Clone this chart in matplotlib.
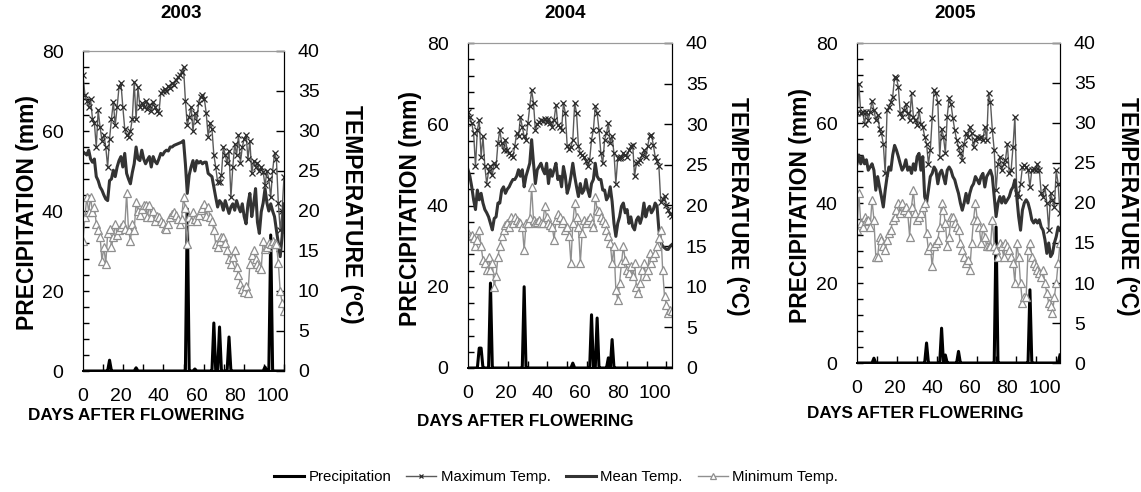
import numpy as np
import matplotlib
matplotlib.use("Agg")
from matplotlib import pyplot as plt
from matplotlib.ticker import MultipleLocator

plt.rcParams['font.family'] = ['Liberation Sans', 'DejaVu Sans']

years = ["2003", "2004", "2005"]

# daily maximum / mean / minimum temperature (C), one value per day after flowering
tmax_2003 = [37.0, 34.5, 33.8, 33.0, 34.0, 31.5, 31.0, 28.0, 32.6, 30.5,
             28.8, 29.5, 28.0, 25.5, 29.0, 31.5, 33.6, 30.7, 33.0, 35.5,
             36.0, 33.0, 30.3, 29.5, 29.3, 30.0, 31.5, 36.1, 31.5, 35.5,
             33.0, 33.5, 33.0, 33.8, 32.8, 33.2, 32.5, 33.6, 33.0, 32.5,
             32.2, 34.7, 35.0, 35.3, 35.0, 35.6, 35.4, 36.0, 35.8, 36.4,
             36.7, 37.0, 37.4, 38.0, 33.8, 30.7, 31.8, 33.0, 30.0, 32.2,
             31.3, 33.5, 34.2, 34.5, 34.0, 32.2, 29.3, 31.0, 30.3, 27.0,
             25.5, 23.6, 23.6, 24.5, 28.0, 27.0, 26.0, 27.5, 21.7, 25.5,
             28.4, 27.0, 29.5, 26.0, 28.0, 29.0, 29.5, 26.5, 28.8, 24.7,
             26.3, 25.5, 26.0, 25.0, 25.5, 24.9, 23.2, 25.0, 24.0, 21.7,
             25.0, 27.2, 26.5, 21.0, 17.6, 20.0, 24.3]
tmean_2003 = [27.4, 27.2, 27.0, 27.6, 26.5, 26.1, 26.5, 24.3, 23.8, 23.0,
              22.6, 22.0, 21.5, 21.3, 23.8, 24.0, 25.1, 24.3, 25.5, 26.3,
              26.8, 25.5, 27.2, 24.7, 24.0, 23.4, 24.8, 25.9, 28.0, 26.5,
              26.3, 27.6, 26.5, 25.9, 26.4, 26.8, 25.5, 26.8, 26.2, 25.9,
              26.5, 27.2, 27.0, 27.4, 27.6, 27.5, 28.0, 28.0, 28.2, 28.3,
              28.4, 28.5, 28.6, 28.8, 25.9, 22.2, 24.5, 25.5, 26.3, 25.0,
              26.3, 26.0, 26.2, 25.9, 26.1, 26.1, 24.7, 24.5, 24.3, 23.0,
              21.7, 20.5, 21.3, 21.0, 20.1, 21.3, 20.5, 19.7, 20.5, 20.9,
              20.1, 21.3, 20.5, 19.9, 20.9, 19.3, 18.4, 20.9, 22.2, 19.3,
              20.9, 22.8, 18.6, 17.2, 19.9, 21.0, 22.8, 21.0, 20.0, 20.9,
              20.0, 19.3, 17.6, 16.0, 14.3, 16.8, 20.9]
tmin_2003 = [16.3, 19.3, 21.7, 19.9, 21.7, 19.9, 20.5, 18.4, 17.6, 16.8,
             13.8, 15.5, 13.4, 17.2, 17.8, 15.5, 16.8, 18.4, 17.0, 17.6,
             18.0, 18.4, 17.8, 22.2, 17.6, 16.3, 18.4, 17.6, 21.1, 20.0,
             19.5, 20.2, 20.7, 20.7, 19.3, 20.8, 19.2, 20.0, 18.8, 19.4,
             19.2, 18.8, 18.5, 17.9, 17.8, 18.4, 19.3, 19.6, 19.9, 19.5,
             19.0, 18.4, 19.0, 21.7, 20.4, 15.9, 19.3, 18.7, 19.9, 19.0,
             18.8, 19.5, 20.1, 20.4, 20.9, 19.4, 20.5, 19.2, 18.8, 17.6,
             15.9, 15.5, 16.2, 16.8, 16.8, 16.0, 15.1, 14.0, 13.4, 14.2,
             15.1, 13.0, 12.0, 10.9, 10.3, 9.9, 10.6, 9.7, 13.4, 14.5,
             15.1, 14.0, 13.4, 13.0, 12.8, 16.3, 15.2, 15.5, 16.0, 15.9,
             16.3, 16.0, 15.9, 13.5, 10.0, 8.5, 7.5]
rain_days_2003 = [14, 28, 55, 59, 69, 72, 77, 96, 99]
rain_mm_2003 = [2.7, 0.8, 40.5, 0.5, 12.0, 11.0, 8.5, 1.0, 34.0]

tmax_2004 = [31.5, 30.9, 30.1, 28.9, 24.8, 29.3, 30.5, 26.0, 28.5, 24.8,
             22.7, 24.2, 24.8, 23.8, 25.2, 24.8, 27.7, 29.3, 27.7, 26.8,
             28.1, 26.8, 26.4, 26.2, 26.0, 27.3, 28.9, 28.5, 30.9, 29.7,
             28.5, 28.1, 30.1, 32.2, 34.2, 32.6, 29.3, 30.0, 30.3, 30.5,
             30.4, 30.7, 30.3, 30.6, 30.1, 29.7, 30.5, 32.4, 29.9, 29.7,
             29.3, 32.6, 31.4, 27.3, 27.0, 27.2, 28.1, 32.6, 31.4, 27.3,
             26.4, 26.2, 26.0, 25.5, 24.8, 25.6, 28.1, 29.3, 32.2, 31.4,
             29.3, 26.4, 25.2, 28.1, 28.9, 30.1, 27.7, 28.5, 26.4, 22.7,
             25.8, 25.9, 26.0, 26.4, 26.2, 26.0, 26.8, 27.3, 27.5, 23.6,
             25.2, 25.4, 25.6, 26.2, 26.8, 26.0, 27.3, 28.5, 28.7, 27.5,
             26.0, 25.5, 24.8, 20.4, 20.8, 21.2, 20.0, 19.5, 19.0, 18.7]
tmean_2004 = [24.4, 23.6, 22.3, 20.7, 19.5, 21.9, 20.7, 21.5, 20.3, 19.5,
              19.1, 18.6, 17.8, 17.0, 18.4, 18.6, 20.3, 20.3, 21.9, 22.3,
              21.5, 22.0, 22.3, 22.8, 23.2, 23.2, 23.6, 24.4, 23.6, 24.4,
              22.3, 23.6, 24.4, 25.2, 28.1, 25.2, 22.7, 24.4, 24.8, 25.2,
              24.4, 23.9, 25.2, 22.7, 24.4, 23.6, 24.4, 25.2, 23.2, 23.6,
              22.3, 24.8, 23.6, 21.5, 22.3, 23.6, 25.2, 23.6, 22.3, 21.1,
              22.7, 21.5, 21.9, 23.2, 21.9, 21.1, 22.7, 23.2, 25.2, 23.6,
              23.2, 23.2, 21.9, 21.9, 20.7, 21.1, 22.3, 20.5, 17.8, 16.2,
              17.8, 18.6, 19.9, 20.3, 19.1, 19.5, 17.8, 18.6, 17.4, 17.0,
              18.2, 18.6, 17.8, 18.6, 20.3, 18.6, 19.5, 19.9, 19.1, 19.5,
              20.3, 19.9, 17.0, 15.5, 15.0, 14.8, 14.6, 14.6, 15.0, 15.2]
tmin_2004 = [16.6, 16.2, 16.4, 16.0, 15.0, 15.8, 17.0, 15.0, 13.3, 12.9,
             12.1, 13.7, 12.1, 12.9, 10.0, 11.3, 13.7, 15.0, 16.2, 17.0,
             17.6, 17.8, 17.4, 18.6, 17.8, 18.6, 18.2, 18.0, 17.8, 17.4,
             14.5, 17.8, 17.8, 18.4, 22.3, 18.2, 17.8, 18.0, 18.2, 17.9,
             17.9, 19.9, 18.6, 17.8, 17.6, 17.4, 15.8, 18.2, 18.9, 18.6,
             17.8, 18.2, 17.0, 17.4, 16.2, 12.9, 17.8, 20.3, 18.6, 17.4,
             12.9, 16.6, 18.2, 17.8, 18.2, 18.6, 17.8, 17.4, 21.1, 19.5,
             19.3, 18.6, 18.2, 17.8, 17.0, 16.2, 15.4, 12.9, 15.0, 9.6,
             8.4, 10.5, 12.9, 15.0, 13.3, 12.1, 11.7, 12.5, 11.3, 12.9,
             10.0, 9.2, 10.5, 12.1, 12.9, 11.3, 12.1, 14.1, 12.9, 13.7,
             14.2, 15.0, 16.0, 17.0, 12.1, 8.8, 7.8, 6.8, 7.2, 7.0]
rain_days_2004 = [6, 7, 12, 30, 56, 66, 69, 75, 77]
rain_mm_2004 = [4.9, 4.9, 20.9, 20.0, 1.2, 13.1, 12.3, 2.5, 7.0]

tmax_2005 = [31.2, 34.9, 31.2, 31.4, 29.9, 31.4, 30.4, 31.4, 32.8, 31.6,
             30.4, 31.0, 29.3, 28.7, 27.4, 23.7, 31.6, 32.0, 32.6, 33.3,
             35.8, 35.6, 34.5, 31.2, 30.8, 31.6, 32.4, 31.2, 30.4, 33.7,
             30.8, 30.4, 29.7, 31.6, 29.9, 29.5, 28.3, 27.4, 24.9, 26.6,
             30.6, 34.1, 33.7, 32.6, 25.8, 29.3, 28.3, 26.2, 30.8, 33.1,
             32.4, 30.6, 29.1, 27.9, 27.0, 26.2, 25.4, 27.4, 28.7, 28.3,
             29.5, 28.7, 27.0, 27.9, 28.3, 28.1, 28.3, 27.9, 29.5, 27.9,
             33.7, 32.6, 29.1, 26.6, 21.6, 24.9, 25.8, 24.1, 24.9, 25.4,
             27.4, 23.7, 24.1, 27.0, 30.8, 21.2, 20.8, 22.4, 24.5, 24.7,
             24.5, 24.1, 22.0, 24.1, 24.3, 24.1, 24.9, 24.1, 21.2, 20.8,
             22.0, 20.0, 16.6, 21.2, 20.4, 19.5, 24.1, 22.4, 18.7]
tmean_2005 = [24.9, 26.0, 24.9, 25.8, 24.9, 25.4, 24.1, 24.5, 24.9, 24.1,
              21.6, 23.3, 22.0, 20.8, 19.5, 21.6, 23.3, 24.5, 24.1, 26.0,
              27.2, 26.6, 25.8, 24.9, 24.1, 24.5, 25.4, 24.1, 24.5, 23.7,
              24.9, 24.1, 25.8, 26.2, 24.1, 25.8, 20.8, 20.0, 21.6, 23.3,
              23.7, 24.5, 24.1, 22.4, 23.7, 24.1, 23.3, 22.4, 24.1, 24.5,
              24.1, 23.3, 22.9, 22.0, 21.2, 20.0, 19.1, 20.0, 21.2, 20.0,
              21.2, 22.0, 22.4, 23.3, 22.9, 22.4, 23.3, 23.7, 22.0, 23.3,
              23.7, 24.1, 23.3, 20.8, 18.3, 20.0, 20.8, 20.0, 20.8, 20.0,
              20.4, 20.8, 21.6, 22.0, 22.9, 20.8, 18.3, 16.6, 19.1, 20.0,
              20.4, 20.0, 19.1, 17.9, 17.5, 17.9, 17.5, 17.9, 17.0, 16.6,
              15.4, 13.7, 15.0, 13.3, 13.7, 15.0, 15.8, 17.0, 16.6]
tmin_2005 = [16.6, 21.2, 17.5, 17.0, 18.3, 17.7, 17.9, 17.0, 20.4, 17.9,
             13.3, 13.3, 15.8, 15.4, 14.6, 14.1, 15.4, 16.2, 16.6, 17.9,
             18.3, 19.1, 20.0, 18.7, 20.0, 19.1, 19.5, 18.7, 15.8, 19.5,
             21.6, 18.7, 17.9, 18.3, 18.7, 19.5, 20.0, 16.2, 14.1, 14.6,
             12.1, 14.6, 15.0, 15.4, 17.0, 20.0, 19.1, 17.5, 14.6, 15.8,
             18.3, 18.3, 17.5, 17.0, 16.6, 15.0, 14.1, 13.3, 12.5, 12.9,
             11.6, 15.0, 17.9, 20.0, 17.9, 17.0, 15.0, 17.0, 15.8, 14.6,
             14.6, 14.6, 17.9, 14.6, 14.1, 13.3, 15.0, 14.6, 13.3, 15.0,
             14.6, 14.1, 13.3, 12.5, 10.0, 15.0, 13.3, 10.0, 7.5, 8.3,
             8.3, 14.1, 15.0, 13.3, 12.5, 12.1, 11.6, 11.2, 10.8, 11.6,
             10.0, 8.7, 7.5, 7.1, 6.2, 8.3, 10.0, 12.5, 15.0]
rain_days_2005 = [9, 37, 45, 47, 54, 74, 92, 108]
rain_mm_2005 = [1.2, 5.0, 8.7, 2.0, 2.9, 34.0, 18.3, 2.0]

tmax_all = [tmax_2003, tmax_2004, tmax_2005]
tmean_all = [tmean_2003, tmean_2004, tmean_2005]
tmin_all = [tmin_2003, tmin_2004, tmin_2005]
rain_days_all = [rain_days_2003, rain_days_2004, rain_days_2005]
rain_mm_all = [rain_mm_2003, rain_mm_2004, rain_mm_2005]

W, H = 1141, 492
fig = plt.figure(figsize=(W / 100, H / 100), dpi=100)

# panel boxes in pixels: left, top, right, bottom
boxes = [(83, 51, 284, 371), (468, 43, 672, 368), (857, 43, 1060, 363)]
title_xy = [(181, 13), (565, 13), (955, 13)]
xlabel_xy = [(136, 416), (525, 421), (915, 414)]
ylabel_xy = [(28, 213), (410, 208), (800, 205)]
y2label_xy = [(352, 214), (738, 206), (1127, 206)]

def fx(px):
    return px / W

def fy(py):
    return 1 - py / H

for i in range(3):
    l, t, r, b = boxes[i]
    ax = fig.add_axes([fx(l), fy(b), (r - l) / W, (b - t) / H])
    ax2 = ax.twinx()

    n = len(tmax_all[i])
    days = np.arange(n)
    rain = np.zeros(n)
    for d, mm in zip(rain_days_all[i], rain_mm_all[i]):
        rain[d] = mm

    p_line, = ax.plot(days, rain, color='black', lw=2.2, label='Precipitation')
    hi_line, = ax2.plot(days, tmax_all[i], color='#5a5a5a', lw=1.0, marker='x',
                        ms=4, mew=0.9, mec='#2a2a2a', label='Maximum Temp.')
    mean_line, = ax2.plot(days, tmean_all[i], color='#333333', lw=2.2,
                          label='Mean Temp.')
    lo_line, = ax2.plot(days, tmin_all[i], color='#8f8f8f', lw=1.0, marker='^',
                        ms=5.5, mfc='white', mec='#8f8f8f', mew=0.9,
                        label='Minimum Temp.')

    ax.set_xlim(0, n - 1)
    ax.set_ylim(0, 80)
    ax2.set_ylim(0, 40)

    ax.set_xticks([0, 20, 40, 60, 80, 100])
    ax.xaxis.set_minor_locator(MultipleLocator(10.6))
    ax.tick_params(axis='x', which='major', length=0, pad=12.5, labelsize=14)
    ax.tick_params(axis='x', which='minor', direction='in', length=5, width=1)
    ax.set_yticks([0, 20, 40, 60, 80])
    ax.yaxis.set_minor_locator(MultipleLocator(4))
    ax.tick_params(axis='y', which='both', direction='in', length=4, width=1,
                   pad=14, labelsize=14)
    ax2.set_yticks(range(0, 41, 5))
    ax2.tick_params(axis='y', direction='in', length=6, width=1, pad=10,
                    labelsize=14)

    for a in (ax, ax2):
        a.spines['top'].set_color('#9a9a9a')
        a.spines['left'].set_color('black')
        a.spines['right'].set_color('black')
        a.spines['bottom'].set_color('black')
        a.spines['bottom'].set_linewidth(1.3)

    fig.text(fx(title_xy[i][0]), fy(title_xy[i][1]), years[i], ha='center',
             va='center', fontsize=13.5, fontweight='bold')
    fig.text(fx(xlabel_xy[i][0]), fy(xlabel_xy[i][1]), 'DAYS AFTER FLOWERING',
             ha='center', va='center', fontsize=12.3, fontweight='bold')
    fig.text(fx(ylabel_xy[i][0]), fy(ylabel_xy[i][1]), 'PRECIPITATION (mm)',
             ha='center', va='center', rotation=90, fontsize=16.5,
             fontweight='bold')
    fig.text(fx(y2label_xy[i][0]), fy(y2label_xy[i][1]), 'TEMPERATURE (ºC)',
             ha='center', va='center', rotation=-90, fontsize=16.5,
             fontweight='bold')

handles = [p_line, hi_line, mean_line, lo_line]
fig.legend(handles, [h.get_label() for h in handles], loc='center',
           bbox_to_anchor=(fx(556), fy(477)), ncol=4, frameon=False,
           fontsize=10.8, handlelength=2.0, handletextpad=0.3,
           columnspacing=1.0, markerscale=0.8)

fig.savefig('out.png', dpi=100)
